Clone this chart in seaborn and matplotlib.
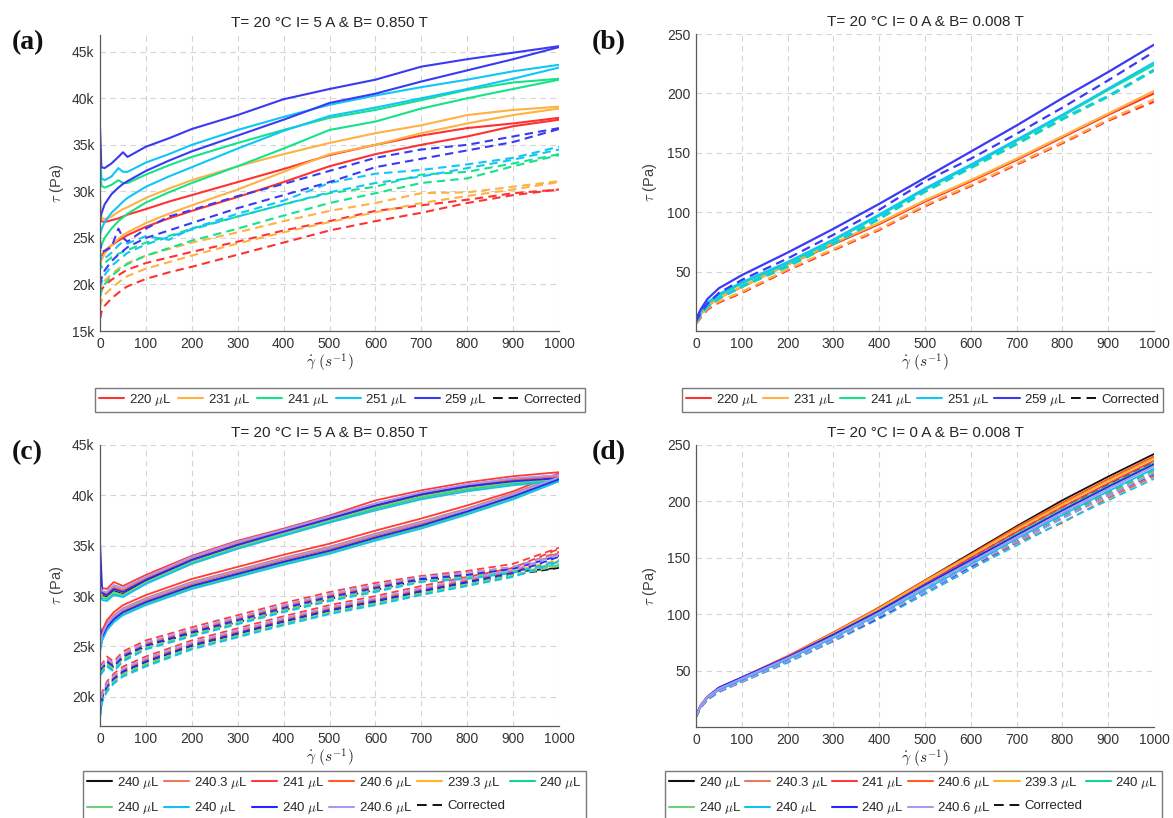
import numpy as np
import pandas as pd
import matplotlib
matplotlib.use("Agg")
import matplotlib.pyplot as plt
import seaborn as sns
from matplotlib.lines import Line2D
from matplotlib.ticker import FuncFormatter, MultipleLocator

# ---------------- data ----------------
TITLE_ON = "T= 20 °C I= 5 A & B= 0.850 T"
TITLE_OFF = "T= 20 °C I= 0 A & B= 0.008 T"

# panel (a): shear stress in kPa, ramp-up (UP) and ramp-down (DN) branches
A_X = [0, 3, 10, 25, 40, 50, 60, 100, 150, 200, 300, 400, 500, 600, 700, 800, 900, 1000]
A_VOLUMES = ["220", "231", "241", "251", "259"]
A_SOLID_UP = [
    [27.8, 26.8, 26.7, 26.9, 27.1, 27.3, 27.5, 28.1, 28.9, 29.6, 31.0, 32.4, 33.9, 35.0, 36.0, 36.8, 37.3, 37.9],
    [29.5, 27.2, 27.0, 27.3, 27.8, 28.1, 28.3, 29.3, 30.3, 31.2, 32.7, 34.0, 35.2, 36.25, 37.1, 38.2, 38.75, 39.1],
    [33.0, 30.6, 30.4, 30.7, 31.2, 30.9, 30.9, 31.8, 32.8, 33.7, 35.2, 36.6, 37.9, 38.75, 39.8, 40.9, 41.7, 42.1],
    [35.2, 31.4, 31.2, 31.6, 32.5, 32.1, 32.1, 33.1, 34.0, 35.0, 36.6, 38.0, 39.3, 40.3, 41.2, 42.0, 42.9, 43.6],
    [36.9, 32.6, 32.5, 33.0, 33.7, 34.2, 33.7, 34.8, 35.7, 36.7, 38.2, 39.9, 41.0, 42.0, 43.4, 44.2, 44.9, 45.6],
]
A_SOLID_DN = [
    [22.4, 23.0, 23.6, 24.2, 24.7, 25.0, 25.3, 26.2, 27.1, 27.9, 29.4, 31.0, 32.7, 34.0, 35.0, 35.9, 37.0, 37.7],
    [22.0, 22.6, 23.3, 24.2, 24.9, 25.3, 25.6, 26.6, 27.6, 28.5, 30.2, 32.1, 34.0, 35.0, 36.25, 37.3, 38.2, 38.9],
    [23.5, 24.2, 25.0, 26.0, 26.8, 27.2, 27.6, 28.8, 29.9, 30.9, 32.7, 34.6, 36.6, 37.5, 38.9, 40.0, 41.0, 42.0],
    [25.3, 25.9, 26.7, 27.7, 28.4, 28.9, 29.3, 30.5, 31.6, 32.6, 34.6, 36.5, 38.1, 39.0, 40.0, 41.0, 42.1, 43.3],
    [27.0, 27.6, 28.6, 29.7, 30.4, 30.8, 31.1, 32.2, 33.3, 34.3, 36.0, 37.7, 39.5, 40.5, 41.8, 43.0, 44.2, 45.5],
]
A_CORR_UP = [
    [19.8, 19.4, 19.9, 20.5, 21.0, 21.3, 21.6, 22.3, 22.9, 23.5, 24.6, 25.8, 26.8, 27.9, 28.5, 29.1, 29.8, 30.2],
    [21.0, 20.0, 20.4, 21.1, 21.7, 22.0, 22.3, 23.1, 23.8, 24.5, 25.6, 26.8, 27.9, 28.75, 29.8, 29.9, 30.5, 31.1],
    [22.5, 21.8, 22.3, 22.9, 23.3, 23.5, 23.7, 24.5, 25.2, 26.0, 27.3, 28.6, 29.8, 30.5, 31.8, 32.1, 33.0, 34.0],
    [23.5, 22.6, 22.8, 23.4, 24.2, 24.6, 24.4, 25.2, 24.8, 26.0, 27.6, 29.0, 30.9, 31.9, 32.3, 32.9, 33.6, 34.8],
    [24.8, 23.5, 23.6, 24.0, 26.0, 25.0, 24.6, 26.0, 27.3, 28.0, 29.5, 30.8, 32.2, 33.6, 34.5, 35.0, 35.9, 36.8],
]
A_CORR_DN = [
    [16.3, 17.0, 17.7, 18.5, 19.1, 19.5, 19.8, 20.6, 21.3, 21.9, 23.2, 24.5, 25.8, 26.8, 27.7, 28.75, 29.6, 30.2],
    [17.6, 18.2, 18.9, 19.6, 20.2, 20.6, 20.9, 21.7, 22.4, 23.1, 24.4, 25.6, 26.7, 27.75, 28.75, 29.5, 30.2, 31.0],
    [18.6, 19.2, 20.0, 20.9, 21.5, 21.9, 22.2, 23.1, 23.9, 24.7, 26.0, 27.4, 28.75, 29.8, 30.9, 31.4, 32.7, 33.9],
    [19.6, 20.2, 21.0, 22.0, 22.6, 23.0, 23.4, 24.3, 25.1, 25.9, 27.3, 28.6, 29.9, 30.9, 31.6, 32.5, 33.4, 34.5],
    [20.0, 20.6, 21.5, 22.5, 23.2, 23.6, 24.0, 25.0, 25.8, 26.6, 28.2, 29.6, 31.0, 32.6, 33.5, 34.4, 35.3, 36.7],
]

# panel (b): shear stress in Pa
B_X = [0, 10, 25, 50, 100, 200, 300, 400, 500, 600, 700, 800, 900, 1000]
B_SOLID = [
    [8, 14, 21, 28, 37, 56, 73, 90, 109, 126, 144, 163, 182, 200],
    [8, 14, 21, 28, 37, 56, 74, 91, 110, 127, 145, 164, 183, 202],
    [9, 16, 23, 30, 40, 57, 76, 97, 119, 139, 160, 181, 203, 224],
    [9, 16, 24, 31, 41, 58, 77, 98, 120, 140, 161, 182, 204, 226],
    [10, 18, 27, 36, 47, 66, 86, 107, 129, 151, 173, 196, 218, 241],
]
B_CORR = [
    [6, 11, 18, 24, 32, 51, 68, 85, 105, 122, 140, 158, 177, 193],
    [6, 12, 19, 25, 33, 52, 69, 86, 106, 123, 141, 159, 178, 195],
    [7, 13, 20, 27, 37, 54, 73, 94, 117, 137, 157, 178, 197, 219],
    [7, 13, 21, 28, 38, 55, 74, 95, 118, 138, 158, 179, 198, 220],
    [8, 15, 23, 32, 43, 61, 81, 102, 126, 145, 166, 188, 211, 235],
]

# panels (c) and (d): repeatability samples
REP_LABELS = ["240", "240.3", "241", "240.6", "239.3", "240", "240", "240", "240", "240.6"]
C_X = [0, 5, 15, 30, 50, 100, 200, 300, 400, 500, 600, 700, 800, 900, 1000]
C_SOLID_UP = [
    [31.0, 30.1, 29.9, 30.5, 30.2, 31.5, 33.5, 35.0, 36.3, 37.6, 38.9, 40.0, 40.8, 41.3, 41.6],
    [31.0, 30.4, 30.3, 31.0, 30.6, 31.8, 33.8, 35.3, 36.5, 37.8, 39.2, 40.2, 41.0, 41.6, 42.0],
    [31.3, 30.8, 30.7, 31.4, 31.0, 32.1, 34.0, 35.5, 36.7, 38.0, 39.5, 40.5, 41.3, 41.9, 42.3],
    [30.8, 30.2, 30.1, 30.8, 30.5, 31.7, 33.6, 35.1, 36.3, 37.7, 39.0, 40.1, 40.9, 41.5, 41.9],
    [30.5, 29.9, 29.8, 30.3, 30.1, 31.3, 33.2, 34.7, 36.0, 37.3, 38.6, 39.7, 40.5, 41.1, 41.4],
    [30.3, 29.8, 29.7, 30.2, 30.0, 31.3, 33.3, 34.8, 36.1, 37.4, 38.7, 39.8, 40.6, 41.2, 41.5],
    [30.4, 29.9, 29.8, 30.4, 30.1, 31.4, 33.4, 34.9, 36.2, 37.5, 38.8, 39.9, 40.7, 41.3, 41.6],
    [30.0, 29.6, 29.5, 30.1, 29.9, 31.2, 33.2, 34.7, 36.0, 37.3, 38.5, 39.6, 40.4, 41.0, 41.4],
    [35.5, 30.3, 30.1, 30.7, 30.4, 31.6, 33.6, 35.1, 36.4, 37.7, 39.0, 40.1, 40.9, 41.4, 41.7],
    [31.0, 30.5, 30.4, 31.1, 30.8, 31.9, 33.9, 35.4, 36.6, 37.9, 39.2, 40.3, 41.1, 41.7, 42.0],
]
C_SOLID_DN = [
    [24.8, 25.9, 26.9, 27.7, 28.4, 29.4, 31.0, 32.2, 33.4, 34.5, 35.8, 37.0, 38.4, 39.9, 41.6],
    [25.2, 26.3, 27.3, 28.1, 28.8, 29.8, 31.4, 32.6, 33.8, 34.9, 36.2, 37.4, 38.7, 40.2, 41.9],
    [25.5, 26.6, 27.6, 28.4, 29.1, 30.1, 31.7, 32.9, 34.1, 35.2, 36.5, 37.7, 39.0, 40.4, 42.2],
    [25.0, 26.1, 27.1, 27.9, 28.6, 29.6, 31.2, 32.4, 33.6, 34.7, 36.0, 37.2, 38.6, 40.0, 41.8],
    [24.6, 25.7, 26.7, 27.5, 28.2, 29.2, 30.8, 32.0, 33.2, 34.3, 35.6, 36.8, 38.2, 39.7, 41.4],
    [24.7, 25.8, 26.8, 27.6, 28.3, 29.3, 30.9, 32.1, 33.3, 34.4, 35.7, 36.9, 38.3, 39.8, 41.5],
    [24.8, 25.9, 26.9, 27.7, 28.4, 29.4, 31.0, 32.2, 33.4, 34.5, 35.8, 37.0, 38.4, 39.9, 41.6],
    [24.5, 25.6, 26.6, 27.4, 28.1, 29.1, 30.7, 31.9, 33.1, 34.2, 35.5, 36.7, 38.1, 39.6, 41.4],
    [27.0, 26.0, 26.9, 27.7, 28.4, 29.4, 31.0, 32.2, 33.4, 34.5, 35.8, 37.0, 38.4, 39.9, 41.6],
    [25.1, 26.2, 27.2, 28.0, 28.7, 29.7, 31.3, 32.5, 33.7, 34.8, 36.1, 37.3, 38.6, 40.1, 41.8],
]
C_CORR_UP = [
    [22.6, 22.8, 23.4, 22.9, 23.9, 25.0, 26.3, 27.4, 28.6, 29.7, 30.6, 31.6, 31.9, 32.4, 32.8],
    [22.8, 23.0, 23.7, 23.2, 24.2, 25.3, 26.6, 27.8, 29.0, 30.1, 31.0, 31.9, 32.3, 32.9, 34.3],
    [23.0, 23.3, 24.0, 23.5, 24.5, 25.6, 26.9, 28.1, 29.3, 30.4, 31.3, 32.0, 32.5, 33.2, 34.8],
    [22.7, 23.0, 23.6, 23.1, 24.1, 25.2, 26.5, 27.7, 28.9, 30.0, 30.9, 31.8, 32.2, 32.8, 34.4],
    [22.3, 22.6, 23.2, 22.7, 23.7, 24.8, 26.1, 27.3, 28.5, 29.6, 30.5, 31.5, 31.9, 32.5, 33.6],
    [22.2, 22.5, 23.1, 22.6, 23.6, 24.8, 26.1, 27.3, 28.5, 29.6, 30.5, 31.5, 31.8, 32.4, 33.2],
    [22.4, 22.7, 23.3, 22.8, 23.8, 24.9, 26.2, 27.4, 28.6, 29.7, 30.6, 31.5, 31.9, 32.5, 33.1],
    [22.1, 22.4, 23.0, 22.5, 23.5, 24.7, 26.0, 27.2, 28.4, 29.5, 30.4, 31.4, 31.7, 32.3, 33.5],
    [22.6, 22.9, 23.5, 23.0, 24.0, 25.1, 26.4, 27.6, 28.8, 29.9, 30.8, 31.7, 32.1, 32.7, 34.0],
    [22.9, 23.1, 23.8, 23.3, 24.3, 25.4, 26.7, 27.9, 29.1, 30.2, 31.1, 31.9, 32.3, 32.9, 34.2],
]
C_CORR_DN = [
    [18.3, 19.9, 20.9, 21.7, 22.4, 23.4, 25.0, 26.2, 27.4, 28.5, 29.4, 30.4, 31.3, 32.1, 32.8],
    [18.6, 20.2, 21.2, 22.0, 22.7, 23.7, 25.3, 26.5, 27.7, 28.8, 29.7, 30.7, 31.6, 32.5, 34.2],
    [18.9, 20.5, 21.5, 22.3, 23.0, 24.0, 25.6, 26.8, 28.0, 29.1, 30.0, 31.0, 31.9, 32.8, 34.7],
    [18.5, 20.1, 21.1, 21.9, 22.6, 23.6, 25.2, 26.4, 27.6, 28.7, 29.6, 30.6, 31.5, 32.4, 34.3],
    [18.1, 19.7, 20.7, 21.5, 22.2, 23.2, 24.8, 26.0, 27.2, 28.3, 29.2, 30.2, 31.1, 32.0, 33.5],
    [18.0, 19.6, 20.6, 21.4, 22.1, 23.1, 24.8, 26.0, 27.2, 28.3, 29.2, 30.2, 31.1, 32.0, 33.1],
    [18.2, 19.8, 20.8, 21.6, 22.3, 23.3, 24.9, 26.1, 27.3, 28.4, 29.3, 30.3, 31.2, 32.1, 33.0],
    [17.9, 19.5, 20.5, 21.3, 22.0, 23.0, 24.7, 25.9, 27.1, 28.2, 29.1, 30.1, 31.0, 31.9, 33.4],
    [18.4, 20.0, 21.0, 21.8, 22.5, 23.5, 25.1, 26.3, 27.5, 28.6, 29.5, 30.5, 31.4, 32.3, 33.9],
    [18.7, 20.3, 21.3, 22.1, 22.8, 23.8, 25.4, 26.6, 27.8, 28.9, 29.8, 30.8, 31.7, 32.6, 34.1],
]
D_X = [0, 10, 25, 50, 100, 200, 300, 400, 500, 600, 700, 800, 900, 1000]
D_SOLID = [
    [10, 19, 27, 34, 43, 62, 83, 106, 130, 154, 178, 201, 222, 242],
    [10, 19, 27, 34, 43, 62, 83, 105, 129, 152, 176, 198, 219, 239],
    [10, 19, 27, 34, 43, 62, 82, 104, 127, 150, 173, 195, 216, 236],
    [10, 19, 27, 35, 44, 63, 84, 106, 130, 153, 177, 199, 220, 240],
    [10, 19, 27, 34, 43, 62, 83, 105, 129, 152, 175, 197, 218, 238],
    [10, 18, 26, 33, 42, 61, 81, 103, 126, 148, 171, 193, 214, 234],
    [10, 18, 26, 33, 42, 60, 80, 102, 125, 147, 170, 192, 213, 233],
    [10, 18, 26, 33, 42, 60, 79, 100, 122, 144, 167, 188, 209, 229],
    [10, 19, 27, 35, 44, 62, 82, 103, 126, 148, 170, 192, 213, 233],
    [10, 19, 27, 34, 43, 61, 80, 101, 124, 146, 168, 190, 211, 231],
]
D_CORR = [
    [9, 17, 25, 32, 41, 60, 80, 102, 126, 150, 173, 195, 215, 235],
    [9, 17, 25, 32, 41, 59, 78, 99, 122, 145, 168, 189, 209, 228],
    [9, 17, 25, 32, 40, 58, 77, 98, 121, 144, 166, 187, 207, 226],
    [9, 17, 24, 31, 40, 58, 76, 96, 118, 140, 163, 181, 203, 222],
    [9, 17, 25, 32, 41, 60, 79, 100, 124, 147, 170, 192, 212, 232],
    [9, 17, 25, 32, 41, 59, 78, 99, 122, 145, 167, 188, 208, 228],
    [9, 17, 25, 32, 40, 58, 77, 98, 121, 143, 165, 186, 206, 226],
    [9, 17, 24, 31, 40, 57, 76, 96, 118, 140, 161, 182, 201, 220],
    [9, 17, 25, 32, 40, 58, 77, 97, 120, 142, 164, 185, 205, 224],
    [9, 17, 25, 32, 40, 58, 77, 98, 120, 143, 164, 185, 205, 225],
]

# ---------------- styling ----------------
VOL_COLORS = ["#ff3232", "#ffb142", "#14e38a", "#10c6f6", "#3a3af5"]
REP_COLORS = ["#111111", "#e87a5d", "#ff3a3a", "#ff5c26", "#ffb327",
              "#12d68c", "#6fd17f", "#0fc3ee", "#2626ff", "#a898f2"]
DASH = (4, 2.5)

sns.set_theme(style="white")
plt.rcParams["font.family"] = ["Liberation Sans", "DejaVu Sans"]
plt.rcParams["mathtext.fontset"] = "cm"

W, H = 1173, 818
fig = plt.figure(figsize=(W / 100, H / 100), dpi=100)


def rect(l, t, r, b):
    return [l / W, 1 - b / H, (r - l) / W, (b - t) / H]


axA = fig.add_axes(rect(100, 35, 559, 331))
axB = fig.add_axes(rect(696, 34, 1154, 331))
axC = fig.add_axes(rect(100, 445, 559, 726))
axD = fig.add_axes(rect(696, 445, 1154, 727))


def build(x, groups):
    frames = []
    cid = 0
    for kind, tables in groups:
        for table in tables:
            for i, vals in enumerate(table):
                frames.append(pd.DataFrame({"x": x, "tau": vals, "sample": f"S{i}",
                                            "kind": kind, "curve": cid}))
                cid += 1
    return pd.concat(frames, ignore_index=True)


def draw(ax, df, colors, lw):
    pal = {f"S{i}": c for i, c in enumerate(colors)}
    sns.lineplot(data=df, x="x", y="tau", hue="sample", style="kind", units="curve",
                 estimator=None, sort=False, palette=pal,
                 dashes={"Measured": "", "Corrected": DASH},
                 style_order=["Corrected", "Measured"],
                 linewidth=lw, legend=False, ax=ax)


dfA = build(A_X, [("Corrected", [A_CORR_UP, A_CORR_DN]), ("Measured", [A_SOLID_UP, A_SOLID_DN])])
dfB = build(B_X, [("Corrected", [B_CORR]), ("Measured", [B_SOLID])])
dfC = build(C_X, [("Corrected", [C_CORR_UP, C_CORR_DN]), ("Measured", [C_SOLID_UP, C_SOLID_DN])])
dfD = build(D_X, [("Corrected", [D_CORR]), ("Measured", [D_SOLID])])

draw(axA, dfA, VOL_COLORS, 1.5)
draw(axB, dfB, VOL_COLORS, 1.6)
draw(axC, dfC, REP_COLORS, 1.3)
draw(axD, dfD, REP_COLORS, 1.3)

kfmt = FuncFormatter(lambda v, p: f"{v:g}k")
for ax, title in [(axA, TITLE_ON), (axB, TITLE_OFF), (axC, TITLE_ON), (axD, TITLE_OFF)]:
    ax.set_xlim(0, 1000)
    ax.xaxis.set_major_locator(MultipleLocator(100))
    ax.set_title(title, fontsize=11, pad=6, color="#262626")
    ax.set_xlabel(r"$\dot{\gamma}\ (s^{-1})$", fontsize=11, labelpad=1, color="#262626")
    ax.set_ylabel(r"$\tau$ (Pa)", fontsize=10.5, color="#404040")
    ax.grid(True, color="#d4d4d4", linestyle=(0, (5, 4)), linewidth=0.8)
    ax.set_axisbelow(True)
    ax.tick_params(direction="in", length=3.5, width=0.8, color="#5a5a5a",
                   labelcolor="#333333", labelsize=10, pad=4)
    for s in ["top", "right"]:
        ax.spines[s].set_visible(False)
    for s in ["left", "bottom"]:
        ax.spines[s].set_color("#5a5a5a")
        ax.spines[s].set_linewidth(0.9)

axA.set_ylim(15, 46.8)
axA.yaxis.set_major_locator(MultipleLocator(5))
axA.yaxis.set_major_formatter(kfmt)
axC.set_ylim(17.1, 45)
axC.set_yticks([20, 25, 30, 35, 40, 45])
axC.yaxis.set_major_formatter(kfmt)
for ax in (axB, axD):
    ax.set_ylim(0, 250)
    ax.set_yticks([50, 100, 150, 200, 250])
axA.yaxis.labelpad = 4
axC.yaxis.labelpad = 4
axB.yaxis.labelpad = 6
axD.yaxis.labelpad = 6

# panel letters
for (x, y, s) in [(12, 43, "(a)"), (592, 43, "(b)"), (12, 453, "(c)"), (592, 453, "(d)")]:
    fig.text(x / W, 1 - y / H, s, fontsize=20, fontweight="bold",
             family=["Liberation Serif", "DejaVu Serif"], ha="left", va="center", color="#111111")


def legend(handles, labels, left, top, right, spacing):
    leg = fig.legend(handles, labels, loc="upper left",
                     bbox_to_anchor=(left / W, 1 - top / H - 0.02, (right - left) / W, 0.02),
                     mode="expand", ncol=6, fontsize=9.5, frameon=True, fancybox=False,
                     edgecolor="#7a7a7a", framealpha=1, handlelength=1.9, handletextpad=0.35,
                     borderpad=0.3, borderaxespad=0, labelspacing=spacing, columnspacing=0.4)
    leg.get_frame().set_linewidth(1.0)
    for t in leg.get_texts():
        t.set_color("#262626")
    return leg


corr_handle = Line2D([], [], color="#111111", lw=1.4, dashes=(5, 3))
hA = [Line2D([], [], color=c, lw=1.5) for c in VOL_COLORS] + [corr_handle]
lA = [rf"{v} $\mu$L" for v in A_VOLUMES] + ["Corrected"]
legend(hA, lA, 95, 388, 585, 0.5)
legend(hA, lA, 682, 388, 1163, 0.5)

hR = [Line2D([], [], color=c, lw=1.5) for c in REP_COLORS] + [corr_handle]
lR = [rf"{v} $\mu$L" for v in REP_LABELS] + ["Corrected"]
order = [0, 6, 1, 7, 2, 8, 3, 9, 4, 10, 5]
legend([hR[i] for i in order], [lR[i] for i in order], 83, 771, 586, 0.7)
legend([hR[i] for i in order], [lR[i] for i in order], 665, 771, 1162, 0.7)

fig.savefig("out.png", dpi=100, facecolor="white")
